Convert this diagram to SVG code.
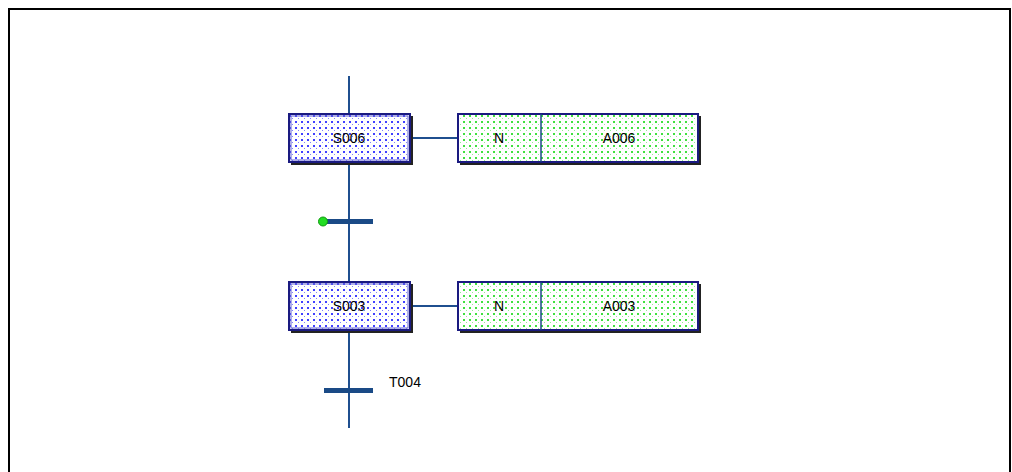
<svg xmlns="http://www.w3.org/2000/svg" width="1012" height="472" viewBox="0 0 1012 472">
<style>
.lbl{font-family:"Liberation Sans",Arial,sans-serif;font-size:14px;fill:#000;text-anchor:middle;dominant-baseline:central}
.wire{stroke:#1f4f8f;stroke-width:2;fill:none}
.bar{stroke:#1a4a86;stroke-width:5}
.shadow{fill:#222}
.step{fill:url(#blueDots);stroke:#1a1a80;stroke-width:2}
.act{fill:url(#greenDots);stroke:#1a1a80;stroke-width:2}
</style>
<defs>
<pattern id="blueDots" width="6" height="6" patternUnits="userSpaceOnUse">
<rect width="6" height="6" fill="#fff"/>
<rect x="1" y="1" width="2" height="2" fill="#4040ff"/>
<rect x="4" y="4" width="1" height="1" fill="#8080ff"/>
</pattern>
<pattern id="greenDots" width="6" height="6" patternUnits="userSpaceOnUse">
<rect width="6" height="6" fill="#fff"/>
<rect x="1" y="1" width="2" height="2" fill="#40e040"/>
<rect x="4" y="4" width="1" height="1" fill="#90f090"/>
</pattern>
</defs>
<rect x="0" y="0" width="1012" height="472" fill="#fff"/>
<path d="M9 472 V9 H1010 V472" fill="none" stroke="#000" stroke-width="2"/>
<g id="connectors">
<line class="wire" x1="349" y1="76" x2="349" y2="428"/>
<line class="wire" x1="410" y1="138" x2="457" y2="138"/>
<line class="wire" x1="410" y1="306" x2="457" y2="306"/>
</g>
<g id="S006">
<rect class="shadow" x="291" y="116" width="122" height="49"/>
<rect class="step" x="289" y="114" width="121" height="48"/>
<rect x="291" y="116" width="117" height="44" fill="none" stroke="#6060d0" stroke-width="1"/>
<text class="lbl" x="349" y="138">S006</text>
</g>
<g id="A006">
<rect class="shadow" x="460" y="116" width="241" height="49"/>
<rect class="act" x="458" y="114" width="240" height="48"/>
<line x1="541" y1="114" x2="541" y2="162" stroke="#1a4a86" stroke-width="1.5"/>
<text class="lbl" x="499" y="138">N</text>
<text class="lbl" x="619" y="138">A006</text>
</g>
<g id="T_mid">
<line class="bar" x1="326" y1="221.5" x2="373" y2="221.5"/>
<circle cx="323" cy="221.5" r="4.5" fill="#22dd22" stroke="#119911" stroke-width="1"/>
</g>
<g id="S003">
<rect class="shadow" x="291" y="284" width="122" height="49"/>
<rect class="step" x="289" y="282" width="121" height="48"/>
<rect x="291" y="284" width="117" height="44" fill="none" stroke="#6060d0" stroke-width="1"/>
<text class="lbl" x="349" y="306">S003</text>
</g>
<g id="A003">
<rect class="shadow" x="460" y="284" width="241" height="49"/>
<rect class="act" x="458" y="282" width="240" height="48"/>
<line x1="541" y1="282" x2="541" y2="330" stroke="#1a4a86" stroke-width="1.5"/>
<text class="lbl" x="499" y="306">N</text>
<text class="lbl" x="619" y="306">A003</text>
</g>
<g id="T004">
<line class="bar" x1="324" y1="390.5" x2="373" y2="390.5"/>
<text class="lbl" x="405" y="382">T004</text>
</g>
</svg>
